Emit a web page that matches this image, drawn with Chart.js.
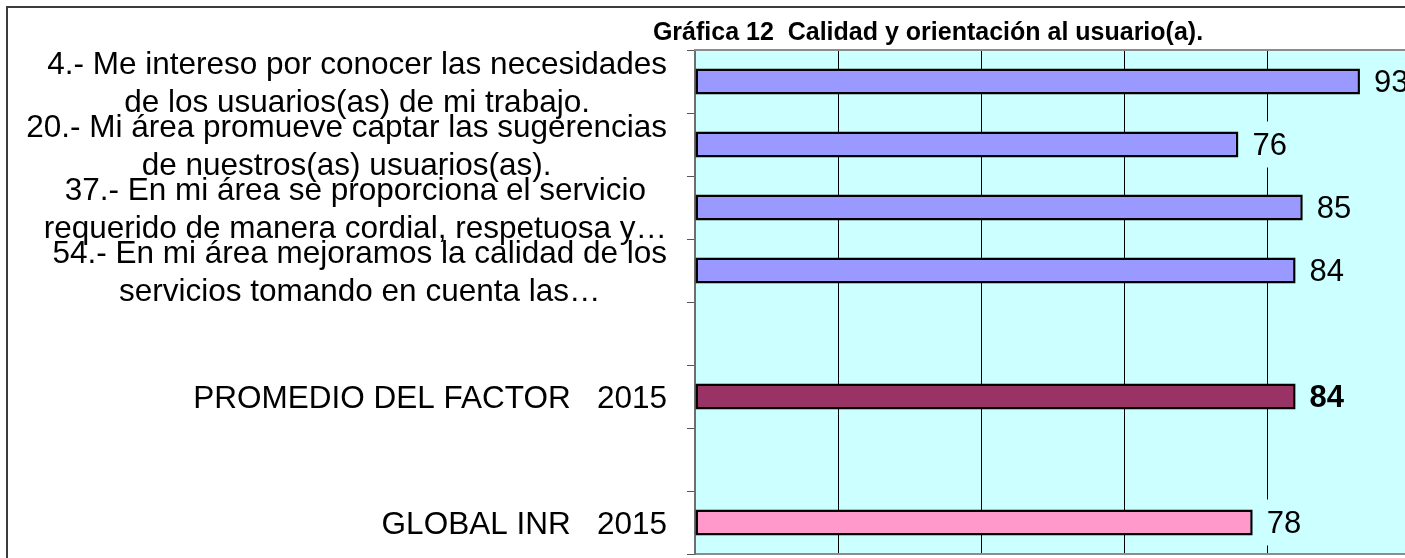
<!DOCTYPE html>
<html>
<head>
<meta charset="utf-8">
<script src="https://cdn.jsdelivr.net/npm/chart.js@4.4.1/dist/chart.umd.min.js"></script>
<style>
    html, body { margin: 0; padding: 0; background: #fff; overflow: hidden; }
    #marco { position: absolute; left: 0; top: 0; width: 1405px; height: 558px; overflow: hidden; }
    #borde { position: absolute; left: 6px; top: 6px; width: 1420px; height: 600px;
             border-left: 2px solid #3c3c3c; border-top: 2px solid #3c3c3c; }
    #caja { position: absolute; left: 0; top: 0; width: 1412px; height: 558px; }
</style>
</head>
<body>
<div id="marco">
    <div id="borde"></div>
    <div id="caja"><canvas id="graficaCalidad"></canvas></div>
</div>
<script>
const titulo = 'Gráfica 12  Calidad y orientación al usuario(a).';

const categorias = [
    ['4.- Me intereso por conocer las necesidades', 'de los usuarios(as) de mi trabajo.'],
    ['20.- Mi área promueve captar las sugerencias', 'de nuestros(as) usuarios(as).'],
    ['37.- En mi área se proporciona el servicio', 'requerido de manera cordial, respetuosa y…'],
    ['54.- En mi área mejoramos la calidad de los', 'servicios tomando en cuenta las…'],
    '',
    'PROMEDIO DEL FACTOR   2015',
    '',
    'GLOBAL INR   2015'
];

const valores = [93, 76, 85, 84, null, 84, null, 78];

const colores = ['#9999FF', '#9999FF', '#9999FF', '#9999FF', null, '#993366', null, '#FF99CC'];

const valorEnNegrita = [false, false, false, false, false, true, false, false];

const fuente = '"Liberation Sans", Arial, sans-serif';
const fondo = '#CCFFFF';

// Fondo del área de trazado, título, etiquetas del eje y valores
const dibujoExtra = {
    id: 'dibujoExtra',
    beforeDraw(chart) {
        const { ctx, chartArea: a } = chart;
        ctx.save();
        ctx.fillStyle = fondo;
        ctx.fillRect(a.left, a.top, a.right - a.left, a.bottom - a.top);
        ctx.restore();
    },
    afterDatasetsDraw(chart) {
        const { ctx } = chart;
        const meta = chart.getDatasetMeta(0);
        ctx.save();
        ctx.textBaseline = 'middle';
        ctx.textAlign = 'left';
        meta.data.forEach((barra, i) => {
            if (valores[i] === null) return;
            const texto = String(valores[i]);
            ctx.font = (valorEnNegrita[i] ? 'bold ' : '') + '31px ' + fuente;
            const x = barra.x + 14;
            const w = ctx.measureText(texto).width;
            ctx.fillStyle = fondo;
            ctx.fillRect(x - 4, barra.y - 23, w + 8, 46);
            ctx.fillStyle = '#000';
            ctx.fillText(texto, x, barra.y + 2);
        });
        ctx.restore();
    },
    afterDraw(chart) {
        const { ctx, chartArea: a } = chart;
        const escalaY = chart.scales.y;
        ctx.save();
        // borde superior del área
        ctx.strokeStyle = '#8c8c8c';
        ctx.lineWidth = 2;
        ctx.beginPath();
        ctx.moveTo(a.left - 1, a.top);
        ctx.lineTo(a.right, a.top);
        ctx.stroke();

        // título
        ctx.fillStyle = '#000';
        ctx.font = 'bold 25px ' + fuente;
        ctx.textAlign = 'center';
        ctx.textBaseline = 'middle';
        ctx.fillText(titulo, 928, 33);

        // etiquetas de categorías: bloque a la derecha, líneas centradas
        ctx.font = '31.5px ' + fuente;
        categorias.forEach((etiqueta, i) => {
            const lineas = Array.isArray(etiqueta) ? etiqueta : [etiqueta];
            if (lineas.join('') === '') return;
            const ancho = Math.max(...lineas.map(l => ctx.measureText(l).width));
            const centroX = a.left - 28 - ancho / 2;
            const y = escalaY.getPixelForTick(i);
            lineas.forEach((l, j) => {
                ctx.fillText(l, centroX, y + (j - (lineas.length - 1) / 2) * 38 + 3);
            });
        });
        ctx.restore();
    }
};

const ctx = document.getElementById('graficaCalidad').getContext('2d');
new Chart(ctx, {
    type: 'bar',
    data: {
        labels: categorias,
        datasets: [{
            data: valores,
            backgroundColor: colores,
            borderColor: '#000',
            borderWidth: 2.5,
            borderSkipped: false,
            categoryPercentage: 1,
            barPercentage: 0.41
        }]
    },
    options: {
        indexAxis: 'y',
        responsive: true,
        maintainAspectRatio: false,
        animation: false,
        layout: { padding: { top: 50, right: 2, bottom: 4, left: 0 } },
        scales: {
            x: {
                min: 0,
                max: 100,
                ticks: { display: false, stepSize: 20 },
                grid: {
                    drawTicks: false,
                    color: c => (c.tick && c.tick.value === 0 ? 'rgba(0,0,0,0)' : '#000'),
                    lineWidth: 1
                },
                border: { display: true, color: '#8c8c8c', width: 2 },
                afterFit: s => { s.height = 0; }
            },
            y: {
                ticks: { display: false },
                grid: {
                    offset: true,
                    drawOnChartArea: false,
                    drawTicks: true,
                    tickLength: 8,
                    color: '#555',
                    lineWidth: 1
                },
                border: { display: true, color: '#6e6e6e', width: 2 },
                afterFit: s => { s.width = 695; }
            }
        },
        plugins: {
            legend: { display: false },
            title: { display: false },
            tooltip: { enabled: false }
        }
    },
    plugins: [dibujoExtra]
});
</script>
</body>
</html>
